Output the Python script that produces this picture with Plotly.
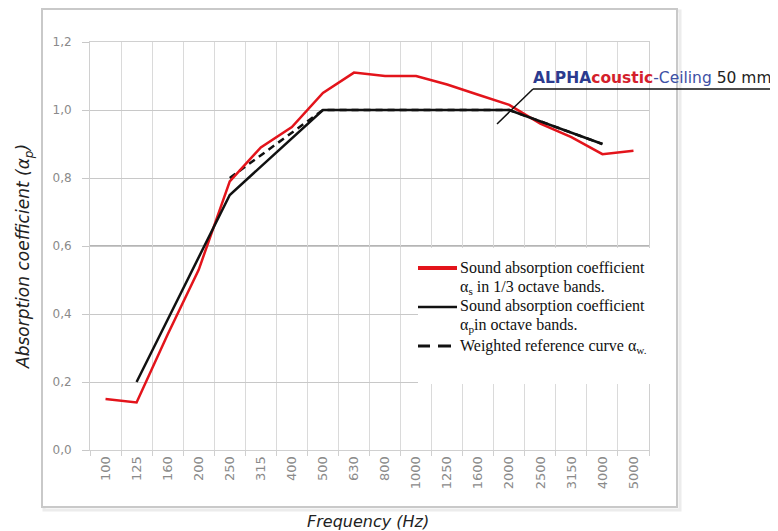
import plotly.graph_objects as go

# ---------------- data ----------------
freqs = ["100", "125", "160", "200", "250", "315", "400", "500", "630", "800",
         "1000", "1250", "1600", "2000", "2500", "3150", "4000", "5000"]
alpha_s = [0.15, 0.14, 0.34, 0.53, 0.79, 0.89, 0.95, 1.05, 1.11, 1.10,
           1.10, 1.075, 1.045, 1.015, 0.96, 0.92, 0.87, 0.88]
oct_freqs = ["125", "250", "500", "1000", "2000", "4000"]
alpha_p = [0.20, 0.75, 1.00, 1.00, 1.00, 0.90]
ref_freqs = ["250", "500", "1000", "2000", "4000"]
alpha_w_ref = [0.80, 1.00, 1.00, 1.00, 0.90]
y_ticks = [0.0, 0.2, 0.4, 0.6, 0.8, 1.0, 1.2]
y_tick_labels = ["0,0", "0,2", "0,4", "0,6", "0,8", "1,0", "1,2"]

# ---------------- layout helpers ----------------
# page body has an 8px margin, so the figure is drawn 8px smaller and offset
OFF = 8
W, H = 778 - OFF, 531 - OFF
PL, PR, PT, PB = 90, 649, 42, 450   # plot area in page pixels


def px(x):
    return (x - PL) / (PR - PL)


def py(y):
    return (PB - y) / (PB - PT)


RED = "#e3141b"
BLACK = "#111111"

fig = go.Figure()
fig.add_trace(go.Scatter(x=ref_freqs, y=alpha_w_ref, mode="lines",
                         line=dict(color=BLACK, width=2.5, dash="7px,5px"),
                         name="Weighted reference curve"))
fig.add_trace(go.Scatter(x=freqs, y=alpha_s, mode="lines",
                         line=dict(color=RED, width=2.5),
                         name="1/3 octave bands"))
fig.add_trace(go.Scatter(x=oct_freqs, y=alpha_p, mode="lines",
                         line=dict(color=BLACK, width=2.5),
                         name="octave bands"))

shapes = []
# outer frame with soft shadow
shapes.append(dict(type="rect", xref="paper", yref="paper",
                   x0=px(44), x1=px(680), y0=py(11), y1=py(510),
                   line=dict(color="#ececec", width=3), layer="below"))
shapes.append(dict(type="rect", xref="paper", yref="paper",
                   x0=px(42), x1=px(677), y0=py(9), y1=py(507),
                   line=dict(color="#c9c9c9", width=2), fillcolor="white",
                   layer="below"))
# darker 0.6 line
shapes.append(dict(type="line", xref="paper", yref="y", x0=0, x1=1, y0=0.6, y1=0.6,
                   line=dict(color="#9c9c9c", width=1.5), layer="below"))
# legend white box
shapes.append(dict(type="rect", xref="paper", yref="paper",
                   x0=px(418), x1=px(651), y0=py(248), y1=py(384),
                   line=dict(width=0), fillcolor="white", layer="above"))
# legend lines
shapes.append(dict(type="line", xref="paper", yref="paper",
                   x0=px(418), x1=px(457), y0=py(268), y1=py(268),
                   line=dict(color=RED, width=4)))
shapes.append(dict(type="line", xref="paper", yref="paper",
                   x0=px(418), x1=px(457), y0=py(307), y1=py(307),
                   line=dict(color=BLACK, width=2.5)))
shapes.append(dict(type="line", xref="paper", yref="paper",
                   x0=px(418), x1=px(430), y0=py(346), y1=py(346),
                   line=dict(color=BLACK, width=3)))
shapes.append(dict(type="line", xref="paper", yref="paper",
                   x0=px(438), x1=px(451), y0=py(346), y1=py(346),
                   line=dict(color=BLACK, width=3)))
# product label leader
shapes.append(dict(type="line", xref="paper", yref="paper",
                   x0=px(533), x1=px(780), y0=py(89), y1=py(89),
                   line=dict(color=BLACK, width=1.5)))
shapes.append(dict(type="line", xref="paper", yref="paper",
                   x0=px(497), x1=px(533), y0=py(124), y1=py(89),
                   line=dict(color=BLACK, width=1.5)))

SERIF = "Liberation Serif"
lf = dict(family=SERIF, size=16, color="#111111")
annotations = [
    dict(text="Sound absorption coefficient", x=px(458), y=py(268)),
    dict(text="α<sub>s</sub> in 1/3 octave bands.", x=px(458), y=py(287)),
    dict(text="Sound absorption coefficient", x=px(458), y=py(306)),
    dict(text="α<sub>p</sub>in octave bands.", x=px(458), y=py(325)),
    dict(text="Weighted reference curve α<sub>w.</sub>", x=px(458), y=py(346)),
]
for a in annotations:
    a.update(xref="paper", yref="paper", xanchor="left", yanchor="middle",
             showarrow=False, font=lf)

annotations.append(dict(
    text="<b><span style='color:#2b3b8f'>ALPHA</span><span style='color:#d41f2c'>coustic</span></b>"
         "<span style='color:#3d50a5'>-Ceiling</span> 50 mm",
    xref="paper", yref="paper", x=px(531), y=py(89), xanchor="left", yanchor="bottom",
    showarrow=False, font=dict(family="DejaVu Sans", size=15.5, color="#222222")))
annotations.append(dict(
    text="<i>Absorption coefficient (α<sub>p</sub>)</i>",
    xref="paper", yref="paper", x=px(24), y=py(257), xanchor="center", yanchor="middle",
    textangle=-90, showarrow=False,
    font=dict(family="DejaVu Sans", size=17, color="#222222")))
annotations.append(dict(
    text="<i>Frequency (Hz)</i>",
    xref="paper", yref="paper", x=px(368), y=py(521), xanchor="center", yanchor="middle",
    showarrow=False, font=dict(family="DejaVu Sans", size=16, color="#222222")))

fig.update_layout(
    width=W, height=H,
    margin=dict(l=PL - OFF, r=W - (PR - OFF), t=PT - OFF, b=H - (PB - OFF), pad=0),
    paper_bgcolor="white", plot_bgcolor="white",
    showlegend=False,
    shapes=shapes, annotations=annotations,
    xaxis=dict(type="category", categoryorder="array", categoryarray=freqs,
               range=[-0.5, len(freqs) - 0.5], tickson="boundaries",
               showgrid=True, gridcolor="#dadada", gridwidth=1,
               ticks="outside", ticklen=5, tickcolor="#d0d0d0",
               showline=True, linecolor="#d0d0d0", mirror=True,
               tickangle=-90, ticklabelstandoff=0,
               tickfont=dict(family="DejaVu Sans", size=13, color="#8a8a8a"),
               zeroline=False, fixedrange=True),
    yaxis=dict(range=[0, 1.2], tickvals=y_ticks, ticktext=y_tick_labels,
               showgrid=True, gridcolor="#c8c8c8", gridwidth=1,
               ticks="outside", ticklen=7, tickcolor="#c8c8c8",
               showline=True, linecolor="#d0d0d0", mirror=True,
               ticklabelstandoff=8,
               tickfont=dict(family="DejaVu Sans", size=12, color="#8a8a8a"),
               zeroline=False, fixedrange=True),
)

fig.write_html("out.html")
